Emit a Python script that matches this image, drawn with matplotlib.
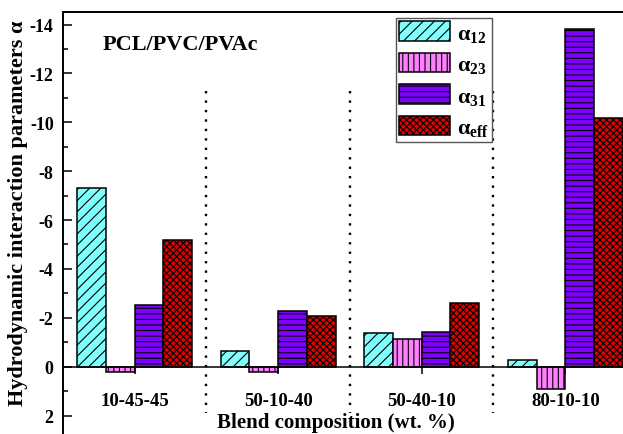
import numpy as np
import matplotlib
matplotlib.use("Agg")
import matplotlib.pyplot as plt

# values (negative values are plotted upward)
compositions = ["10-45-45", "50-10-40", "50-40-10", "80-10-10"]
alpha_12 = [-7.3, -0.63, -1.36, -0.27]
alpha_23 = [0.23, 0.22, -1.13, 0.92]
alpha_31 = [-2.54, -2.27, -1.41, -13.83]
alpha_eff = [-5.2, -2.08, -2.6, -10.19]

series = [
    (r"$\alpha_{12}$", alpha_12, "#80FFFF", "///"),
    (r"$\alpha_{23}$", alpha_23, "#FF80FF", "|||"),
    (r"$\alpha_{31}$", alpha_31, "#8000FF", "---"),
    (r"$\alpha_{eff}$", alpha_eff, "#E00000", "xxxxx"),
]

plt.rcParams["font.family"] = ["Liberation Serif", "DejaVu Serif"]
plt.rcParams["font.weight"] = "bold"
plt.rcParams["mathtext.fontset"] = "custom"
plt.rcParams["mathtext.rm"] = "Liberation Serif:bold"
plt.rcParams["mathtext.it"] = "Liberation Serif:bold"
plt.rcParams["mathtext.bf"] = "Liberation Serif:bold"
plt.rcParams["hatch.linewidth"] = 0.8

W, H = 623, 435
fig = plt.figure(figsize=(W / 100, H / 100), dpi=100)

# axes is cut off on the right and bottom like the original
ax = fig.add_axes([62.7 / W, 1 - 441 / H, 574.4 / W, 427.7 / H])

x = np.arange(1, len(compositions) + 1)
width = 0.2
offsets = [-0.3, -0.1, 0.1, 0.3]
for (label, vals, color, hatch), off in zip(series, offsets):
    ax.bar(x + off, vals, width, color=color, edgecolor="black",
           linewidth=1.1, hatch=hatch, label=label)

ax.set_xlim(0.5, 4.5)
ax.set_ylim(3.0, -14.5)

# dotted separators between the groups
ax.vlines([1.5, 2.5, 3.5], -11.3, 1.9, colors="black",
          linestyles=(0, (1, 3)), linewidth=1.7)

ax.spines["bottom"].set_position(("data", 0))
ax.spines["right"].set_visible(False)
for s in ["left", "top", "bottom"]:
    ax.spines[s].set_linewidth(1.4)
ax.spines["bottom"].set_linewidth(1.1)

ax.set_xticks(x)
ax.set_xticklabels(compositions, fontsize=13.5, fontweight="bold")
ax.tick_params(axis="x", direction="out", length=5, width=1.1, pad=13)

ax.set_yticks(np.arange(-14, 3, 2))
ax.set_yticks(np.arange(-13, 3, 2), minor=True)
ax.set_yticklabels([str(v) for v in range(-14, 3, 2)], fontsize=13, fontweight="bold")
ax.tick_params(axis="y", which="major", direction="in", length=6.5, width=1.1, pad=6.5)
ax.tick_params(axis="y", which="minor", direction="in", length=3.5, width=1.1)

fig.text(18 / W, 1 - 213 / H, "Hydrodynamic interaction parameters α",
         rotation=90, ha="center", va="center", fontsize=16, fontweight="bold")
fig.text(336 / W, 1 - 423 / H, "Blend composition (wt. %)",
         ha="center", va="center", fontsize=15, fontweight="bold")
fig.text(103 / W, 1 - 45 / H, "PCL/PVC/PVAc",
         ha="left", va="center", fontsize=16, fontweight="bold")

leg = ax.legend(loc="upper left", bbox_to_anchor=(396 / W, 1 - 19 / H),
                bbox_transform=fig.transFigure, fontsize=16, fancybox=False,
                edgecolor="#555555", framealpha=1, handlelength=2.3,
                handleheight=0.95, labelspacing=0.42, handletextpad=0.3,
                borderpad=0.15, borderaxespad=0)
leg.get_frame().set_linewidth(1.0)

fig.savefig("out.png", dpi=100)
